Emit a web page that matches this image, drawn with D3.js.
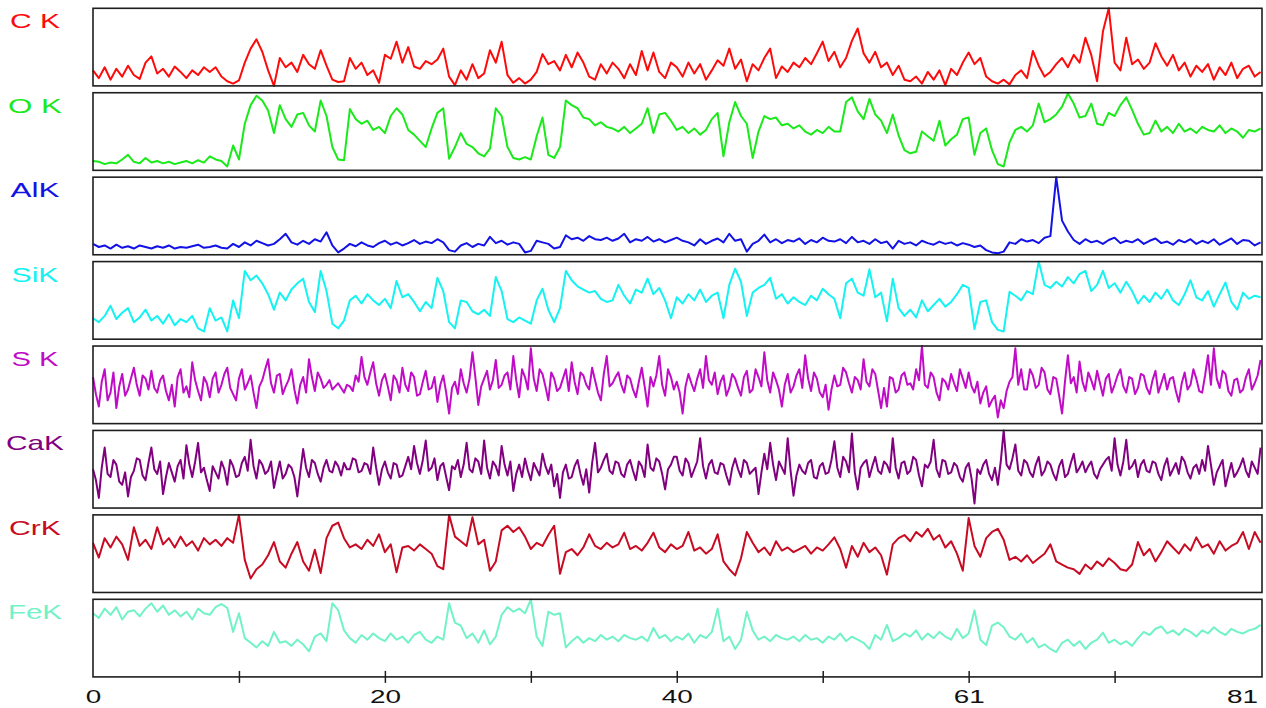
<!DOCTYPE html>
<html>
<head>
<meta charset="utf-8">
<script src="https://cdn.jsdelivr.net/npm/d3@7"></script>
<style>
  body { margin: 0; background: #fff; }
  svg { display: block; font-family: "Liberation Sans", Arial, sans-serif; }
</style>
</head>
<body>
<svg id="svg" width="1266" height="708"></svg>
<script>
// element names, one panel each
const elements = ["C K", "O K", "AlK", "SiK", "S K", "CaK", "CrK", "FeK"];
const colors = ["#ff0a0a", "#1aea1a", "#1212e6", "#14f2f2", "#c00cc6", "#800080", "#c80a22", "#72f2c8"];

// x axis: samples spread evenly over 0 .. 80, axis runs 0 .. 80.1
const xLast = 80;
const xMax = 80.1;
const tickValues = [0, 10, 20, 30, 40, 50, 60, 70, 80];
const tickLabels = ["0", "", "20", "", "40", "", "61", "", "81"];

// relative intensity of each trace (0 = panel bottom, 100 = panel top)
const cK = [20,10,24,8,22,12,26,14,9,30, 38,16,22,12,25,18,10,20,14,24, 18,24,12,6,3,7,30,48,60,44,
  20,0,36,24,30,18,40,28,22,46, 26,8,5,6,36,22,30,14,20,4, 40,35,57,30,50,25,22,32,28,34,
  48,12,1,20,8,28,10,16,46,30, 57,14,4,10,3,8,18,41,28,32, 20,40,24,43,30,12,8,28,16,30,
  22,10,28,14,45,20,43,18,10,30, 24,12,30,16,28,8,20,33,26,48, 22,34,6,28,20,36,48,10,25,18,
  30,24,36,28,42,57,32,44,24,36, 58,74,42,30,44,24,30,14,26,8, 6,12,3,18,8,20,1,22,14,30,
  43,28,36,12,6,3,8,2,14,20, 10,45,26,12,18,28,36,24,40,30, 62,40,6,70,100,30,20,62,28,34,
  22,30,55,38,26,40,20,30,12,26, 18,28,8,24,14,30,10,22,26,12,18];

const oK = [12,11,8,10,9,14,20,11,9,16, 10,12,9,11,8,10,12,9,13,10, 18,14,12,5,32,14,60,84,96,90,
  77,48,84,66,56,72,74,58,50,90, 70,30,14,13,79,66,60,64,52,56, 48,70,80,72,52,46,38,30,54,74,
  80,15,30,48,34,30,22,18,28,80, 70,30,16,14,17,14,44,68,20,16, 30,90,84,80,68,66,58,62,56,54,
  50,56,48,54,60,80,48,72,74,64, 52,56,48,54,46,52,66,74,18,62, 88,70,60,16,50,70,66,68,58,60,
  54,58,50,46,52,48,56,50,50,88, 94,76,66,92,72,64,48,72,45,26, 22,24,50,44,38,64,32,40,46,66,
  68,20,48,54,26,8,5,36,52,56, 50,58,86,62,66,72,82,99,86,68, 70,86,60,58,74,70,84,94,78,60,
  46,48,64,50,56,48,60,50,54,48, 56,52,50,58,48,54,50,42,52,50,54];

const alK = [14,10,12,8,13,9,11,8,12,10, 8,11,9,12,8,10,9,11,13,9, 10,12,9,8,14,10,16,12,18,15,
  12,14,20,27,16,13,18,14,20,17, 29,12,3,8,14,11,16,12,10,15, 18,13,16,12,15,19,14,17,15,20,
  16,6,4,12,15,10,14,12,23,15, 18,13,16,14,3,5,18,16,14,8, 10,25,20,22,18,24,20,19,22,18,
  21,27,16,20,18,23,17,20,16,19, 22,18,16,12,20,14,18,21,16,27, 18,20,4,14,18,26,16,20,15,19,
  17,21,14,19,16,22,18,17,20,15, 23,16,18,14,20,15,17,8,18,14, 16,12,18,15,13,17,14,16,12,15,
  13,10,12,6,3,2,4,16,14,20, 17,19,15,22,24,100,44,30,19,14, 20,16,18,14,19,22,15,18,16,20,
  14,18,21,15,17,13,19,16,20,14, 18,15,20,13,17,21,14,19,18,12,16];

const siK = [27,22,30,43,26,34,40,22,28,38, 24,30,20,32,18,26,22,30,14,10, 40,24,28,10,50,27,88,76,82,72,
  58,38,60,50,64,72,78,48,35,88, 62,20,14,24,50,56,46,58,50,44, 52,40,75,54,58,48,36,48,40,79,
  62,22,14,50,48,36,32,38,30,80, 62,26,22,28,24,20,50,65,38,22, 40,88,76,68,64,60,62,52,48,50,
  70,56,46,64,60,78,58,66,50,27, 54,46,58,50,64,48,56,60,27,70, 91,74,30,60,66,70,79,52,58,46,
  54,48,44,56,50,65,58,52,27,72, 78,60,56,90,54,60,23,78,40,30, 38,28,50,36,44,52,42,48,58,70,
  66,13,48,50,22,12,10,61,56,50, 62,58,100,70,66,74,68,80,72,84, 88,62,70,88,66,72,60,74,62,46,
  56,48,60,52,64,50,44,58,76,54, 50,62,42,58,73,48,38,60,52,56,54];

// S K and CaK are read at twice the density (very spiky traces)
const sK = [
  60,38,22,54,70,30,40,66,20,48,64,36,44,58,72,50,36,62,58,44,
  68,46,40,56,62,42,30,50,22,60,70,40,48,34,79,56,42,30,60,52,
  34,58,66,40,50,64,72,46,38,30,58,70,44,52,62,40,20,48,56,70,
  83,52,40,62,64,38,48,56,70,44,26,50,60,40,83,60,42,66,58,46,
  50,56,44,48,52,46,40,50,48,42,62,54,86,60,50,66,79,52,36,56,
  64,48,30,62,56,40,72,50,42,66,60,36,38,54,68,44,46,60,28,50,
  62,40,13,46,54,38,70,52,40,58,92,60,24,48,58,68,44,56,82,46,
  50,62,66,44,87,56,34,70,60,44,97,58,42,70,64,48,30,66,58,42,
  46,58,70,42,79,54,38,66,62,50,44,72,56,40,30,64,87,48,52,60,
  66,50,40,62,58,44,34,54,72,48,22,60,48,62,87,50,36,70,60,44,
  54,40,13,48,64,52,42,58,70,46,87,56,50,66,38,54,62,36,46,64,
  58,46,36,60,68,40,44,70,60,48,92,56,40,66,56,44,22,50,64,40,
  48,62,70,46,88,58,42,66,58,40,34,50,18,44,62,48,50,72,66,52,
  40,60,56,44,83,54,48,70,64,42,20,46,22,60,58,40,44,62,66,50,
  52,44,70,56,100,50,46,66,60,40,30,58,54,44,64,52,42,70,58,46,
  66,48,40,54,26,40,48,22,30,36,8,30,20,42,54,60,97,50,70,44,
  44,70,62,46,50,72,66,44,38,60,58,36,13,54,88,52,60,40,80,54,
  42,66,56,44,68,52,36,58,64,40,50,62,70,48,40,60,58,38,46,64,
  62,46,38,56,68,40,52,64,44,58,60,42,28,52,66,44,50,70,58,42,
  40,62,88,50,97,58,46,68,64,42,36,56,58,40,44,60,70,44,52,62,82];

const caK = [
  50,36,13,52,78,44,40,62,56,34,30,46,15,40,48,64,62,42,36,58,
  78,50,44,60,18,40,58,46,34,54,62,38,81,56,40,60,84,46,52,36,
  22,54,46,38,60,50,30,62,54,40,42,58,66,48,88,54,38,62,56,44,
  48,60,26,44,60,38,44,56,52,40,15,46,76,52,40,62,58,44,34,52,
  62,48,46,60,54,42,58,50,50,64,62,46,48,58,56,44,78,52,30,50,
  60,46,38,58,56,40,42,54,66,50,80,58,44,62,87,48,52,64,36,54,
  58,40,23,54,50,62,40,56,84,50,46,64,60,44,87,52,38,60,54,42,
  80,56,42,60,22,44,56,40,64,48,36,58,50,42,70,54,44,56,28,44,
  13,46,56,38,40,54,62,44,30,50,20,58,84,46,52,62,70,48,44,60,
  58,44,40,56,62,48,36,60,54,40,82,52,48,64,60,44,24,50,56,66,
  66,48,42,64,58,40,50,60,90,54,38,56,62,46,44,58,56,42,30,52,
  64,50,40,62,58,44,48,52,18,46,70,50,84,56,36,60,52,44,90,48,
  16,42,56,48,44,58,62,40,38,54,58,44,46,62,86,52,40,66,60,46,
  96,46,24,52,58,62,40,54,66,48,44,60,56,46,90,52,38,58,60,44,
  48,66,62,42,28,56,52,60,88,50,40,62,60,44,46,58,54,40,34,52,
  58,38,6,50,44,56,62,44,36,52,30,60,100,56,50,64,82,48,42,62,
  58,46,40,56,66,42,48,60,56,44,36,54,62,40,44,58,70,46,52,60,
  46,54,60,44,38,50,56,62,66,48,90,56,42,60,88,50,54,62,40,56,
  62,48,46,60,58,44,36,54,64,42,50,58,44,66,60,46,38,52,56,44,
  62,48,80,56,30,46,54,62,28,44,58,40,46,54,64,48,40,60,52,44,78];

const crK = [64,45,70,58,72,62,42,84,60,68, 56,84,62,70,58,72,60,66,54,70, 62,68,60,70,64,100,42,18,30,36,
  48,65,40,32,50,65,40,28,55,25, 70,86,90,70,58,62,56,68,60,75, 52,62,26,58,60,54,62,56,50,34,
  30,100,72,66,60,97,62,68,28,40, 80,86,78,84,72,56,64,60,74,86, 24,52,56,48,58,75,60,56,64,58,
  62,77,56,60,54,64,77,58,52,62, 56,60,78,54,58,50,56,75,40,30, 22,44,78,64,52,58,48,66,54,58,
  52,56,60,50,58,54,62,71,56,32, 60,46,64,52,58,48,23,62,70,74, 66,78,72,82,68,74,58,66,50,28,
  96,60,46,70,78,82,68,42,46,40, 48,38,44,50,62,40,36,32,30,24, 36,30,40,34,44,38,30,28,36,65,
  48,56,40,52,66,58,50,62,54,71, 58,62,50,66,54,60,64,78,56,78,64];

const feK = [82,76,88,80,90,74,84,86,78,88, 95,84,92,80,86,78,84,74,88,82, 80,90,94,89,58,82,50,44,38,46,
  40,58,44,46,40,48,42,33,52,56, 46,95,86,60,50,44,54,48,56,50, 46,56,48,52,44,54,58,48,44,52,
  48,95,70,66,50,56,44,60,42,52, 80,90,84,88,82,100,52,40,84,80, 82,38,46,52,44,50,46,54,48,52,
  46,54,50,48,52,46,63,50,54,46, 52,48,56,44,54,50,58,88,46,52, 36,48,84,60,48,52,46,54,50,48,
  52,46,54,48,50,44,52,48,56,46, 52,48,44,36,54,48,67,46,50,56, 52,60,48,56,50,58,52,48,62,50,
  56,86,48,41,66,70,64,52,48,56, 44,50,38,42,36,32,44,48,40,46, 36,44,48,57,44,48,42,46,40,50,
  58,54,62,65,56,60,54,62,58,52, 60,56,64,58,54,62,58,56,60,62,67];

const series = [cK, oK, alK, siK, sK, caK, crK, feK];

// layout
const svg = d3.select("#svg");
const left = 93, right = 1262;
const panelTop0 = 8.3, panelStep = 84.43, panelH = 77.6;
const labelLen = [50, 54, 49, 47, 47, 58, 52, 54];

const x = d3.scaleLinear().domain([0, xMax]).range([left, right]);

elements.forEach((name, k) => {
  const top = panelTop0 + k * panelStep;
  const y = d3.scaleLinear().domain([0, 100]).range([top + panelH, top]);
  const data = series[k];
  const step = xLast / (data.length - 1);

  const line = d3.line()
    .x((d, i) => x(i * step))
    .y(d => y(d));

  svg.append("path")
    .datum(data)
    .attr("d", line)
    .attr("fill", "none")
    .attr("stroke", colors[k])
    .attr("stroke-width", 2)
    .attr("stroke-linejoin", "round");

  // panel frame
  svg.append("rect")
    .attr("x", left)
    .attr("y", top)
    .attr("width", right - left)
    .attr("height", panelH)
    .attr("fill", "none")
    .attr("stroke", "#1e1e1e")
    .attr("stroke-width", 1.6);

  // element label
  svg.append("text")
    .attr("x", 35)
    .attr("y", top + 20)
    .attr("text-anchor", "middle")
    .attr("font-size", 21)
    .attr("fill", colors[k])
    .attr("textLength", labelLen[k])
    .attr("lengthAdjust", "spacingAndGlyphs")
    .text(name);
});

// bottom axis on the last panel
const axisY = panelTop0 + 7 * panelStep + panelH;
const axis = svg.append("g")
  .attr("transform", `translate(0,${axisY})`)
  .call(d3.axisBottom(x)
    .tickValues(tickValues)
    .tickFormat((d, i) => tickLabels[i])
    .tickSize(6));

axis.select(".domain").remove();
axis.selectAll(".tick line")
  .attr("y1", -6)
  .attr("y2", 6)
  .attr("stroke", "#1e1e1e")
  .attr("stroke-width", 1.5)
  .attr("opacity", (d, i) => (i === 0 || i === tickValues.length - 1) ? 0 : 1);
axis.selectAll(".tick text")
  .attr("y", 13)
  .attr("font-size", 18)
  .attr("fill", "#111")
  .attr("font-family", "Liberation Sans, Arial, sans-serif")
  .attr("textLength", d => tickLabels[tickValues.indexOf(d)].length * 15.5)
  .attr("lengthAdjust", "spacingAndGlyphs")
  .attr("text-anchor", (d, i) => i === tickValues.length - 1 ? "end" : "middle")
  .attr("dx", (d, i) => i === tickValues.length - 1 ? -3 : 0);
</script>
</body>
</html>
